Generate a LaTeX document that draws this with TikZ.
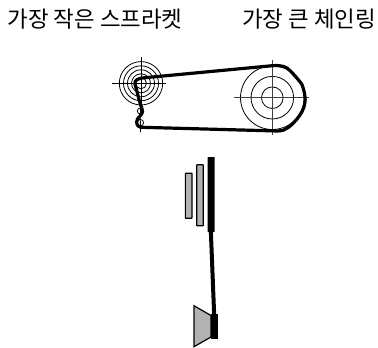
\documentclass[tikz,border=0pt]{standalone}
\usepackage{fontspec}
\newfontfamily\cjk{Noto Sans CJK KR}
\tikzset{
 px/.style={x=0.75pt,y=-0.75pt},
 thin line/.style={line width=0.6pt,draw=black},
 axis line/.style={line width=0.6pt,draw=black!75},
 chain/.style={line width=2.4pt,draw=black,line join=round,line cap=round},
 plate/.style={draw=black,fill=black!30,line width=0.9pt,rounded corners=0.4pt},
 label/.style={font=\cjk\fontsize{16.8pt}{18pt}\selectfont,anchor=base,inner sep=0pt}
}
\begin{document}
\begin{tikzpicture}[px]
\useasboundingbox (0,0) rectangle (378,347);
\node[label] (small) at (95,27) {가장 작은 스프라켓};
\node[label] (big) at (309,27) {가장 큰 체인링};
% small sprocket
\coordinate (s) at (141,83.3);
\foreach \r in {5.5,9.5,13.5,17.5,21.7}{\draw[thin line] (s) circle (\r);}
\draw[thin line] (112,83.3) -- (165.7,83.3);
\draw[thin line] (141,57) -- (141,108);
% large ring
\coordinate (r) at (272.3,97.7);
\foreach \r in {10.8,21.3,31.8}{\draw[thin line] (r) circle (\r);}
\draw[axis line] (234,97.7) -- (309.3,97.7);
\draw[axis line] (272.3,60) -- (272.3,135);
% derailleur pulleys
\coordinate (p1) at (140.3,111);
\coordinate (p2) at (140.3,122.7);
\draw[thin line] (p1) circle (3);
\draw[thin line] (p2) circle (3.3);
\draw[thin line] (p1) ++(0,-4) -- ++(0,8);
\draw[thin line] (p2) ++(0,-5) -- (140.5,132);
% chain
\draw[chain] (272.3,65.7) -- (145,77.7) .. controls (137,78.5) and (134.5,80) .. (135,84)
  -- (140,103) .. controls (141.5,108) and (143,110) .. (142.5,112)
  .. controls (142,116) and (136.7,117) .. (136.7,122)
  .. controls (136.7,125.5) and (138.5,127.2) .. (142,127.3) -- (278,131)
  .. controls (283,131) and (286,129) .. (289,127)
  .. controls (295,122) and (299,117) .. (302,111.7)
  .. controls (305,106) and (305.5,100) .. (305,97)
  .. controls (304.5,92) and (303,87) .. (301.7,84)
  .. controls (297,78) and (291,71) .. (287,68) .. controls (283,65.5) and (277,65.3) .. (272.3,65.7);
% plates
\node[plate,minimum width=5pt,minimum height=33.8pt,inner sep=0pt] (plate1) at (188.7,195.8) {};
\node[plate,minimum width=5pt,minimum height=45.8pt,inner sep=0pt] (plate2) at (200,195.2) {};
% big bar and lever
\fill[black,rounded corners=0.4pt] (207.7,157) rectangle (214.7,232);
\draw[line width=3pt] (210.8,230) -- (214.2,316);
\draw[plate,fill=black!30,rounded corners=0pt] (194,305.7) -- (211,315.5) -- (211,337) -- (194,346.7) -- cycle;
\fill[black] (210.7,314) rectangle (217.7,339);
\end{tikzpicture}
\end{document}
